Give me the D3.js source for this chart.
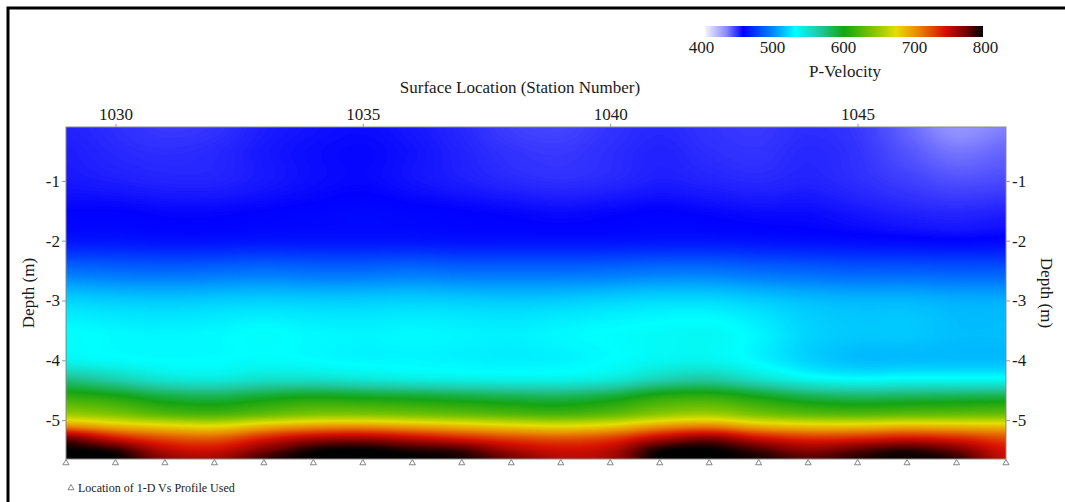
<!DOCTYPE html>
<html>
<head>
<meta charset="utf-8">
<script src="https://cdn.jsdelivr.net/npm/d3@7"></script>
<style>
  html, body { margin: 0; padding: 0; background: #fff; }
  svg { display: block; }
  text { font-family: "Liberation Serif", "Times New Roman", serif; fill: #1a1a1a; }
</style>
</head>
<body>
<svg id="chart" width="1065" height="502"></svg>
<script>
// Survey stations (columns of the velocity grid)
const stations = [1029, 1030, 1031, 1032, 1033, 1034, 1035, 1036, 1037, 1038,
                  1039, 1040, 1041, 1042, 1043, 1044, 1045, 1046, 1047, 1048];
// Depths of the grid rows (m)
const depths = [-0.1, -0.5, -1.0, -1.5, -2.0, -2.5, -3.0, -3.5, -4.0, -4.3,
                -4.6, -4.9, -5.1, -5.3, -5.5, -5.65];
// P-wave velocity (m/s), one row per depth, one value per station
const velocity = [
  [449, 447, 445, 446, 450, 452, 453, 451, 448, 444, 443, 446, 448, 446, 445, 447, 445, 437, 428, 432],
  [450, 448, 447, 448, 451, 453, 454, 452, 449, 446, 445, 447, 449, 447, 446, 448, 446, 440, 434, 437],
  [451, 450, 449, 449, 451, 453, 454, 452, 450, 448, 447, 448, 450, 449, 448, 449, 447, 444, 441, 442],
  [455, 455, 454, 454, 455, 456, 457, 456, 455, 454, 453, 454, 455, 454, 453, 453, 451, 449, 448, 449],
  [461, 461, 460, 460, 461, 461, 461, 461, 460, 460, 460, 460, 461, 461, 460, 459, 458, 457, 456, 457],
  [490, 488, 487, 488, 490, 488, 488, 490, 488, 488, 488, 489, 491, 491, 488, 486, 484, 484, 483, 483],
  [518, 516, 515, 516, 517, 516, 516, 517, 516, 515, 516, 518, 520, 520, 516, 512, 510, 510, 508, 508],
  [530, 528, 527, 528, 530, 528, 527, 528, 527, 526, 528, 530, 532, 533, 527, 518, 515, 515, 512, 512],
  [535, 532, 530, 530, 532, 530, 528, 528, 527, 526, 527, 530, 535, 536, 528, 518, 512, 512, 512, 512],
  [570, 558, 545, 542, 548, 548, 544, 540, 538, 537, 537, 542, 556, 562, 548, 535, 530, 532, 532, 532],
  [610, 602, 588, 584, 592, 598, 595, 592, 588, 584, 582, 590, 606, 610, 598, 585, 580, 582, 584, 586],
  [650, 640, 625, 620, 630, 640, 640, 636, 630, 624, 620, 628, 645, 652, 638, 628, 625, 628, 630, 632],
  [705, 690, 680, 675, 690, 700, 702, 695, 688, 680, 675, 682, 700, 708, 692, 685, 685, 690, 688, 686],
  [775, 745, 725, 720, 740, 758, 762, 752, 740, 728, 722, 730, 755, 770, 748, 735, 738, 745, 738, 725],
  [800, 790, 755, 748, 772, 795, 800, 792, 785, 760, 748, 755, 795, 800, 785, 768, 780, 790, 775, 745],
  [800, 800, 768, 760, 788, 800, 800, 800, 795, 775, 755, 760, 800, 800, 795, 782, 792, 798, 790, 750]
];
// Stations where a 1-D Vs profile was used
const profileStations = [1029, 1030, 1031, 1032, 1033, 1034, 1035, 1036, 1037, 1038,
                         1039, 1040, 1041, 1042, 1043, 1044, 1045, 1046, 1047, 1048];
// Tick labels
const stationTicks = [1030, 1035, 1040, 1045];
const depthTicks = [-1, -2, -3, -4, -5];
const velocityTicks = [400, 500, 600, 700, 800];

// Colour ramp for velocity
const colorStops = [400, 430, 455, 495, 530, 565, 600, 640, 675, 705, 745, 775, 800];
const colorList = ["#f4f4ff", "#8c8cff", "#0000ff", "#0080ff", "#00ffff", "#20c8a0",
                   "#14a414", "#7cc400", "#e4de00", "#ea8c00", "#d81000", "#760000", "#000000"];

const svg = d3.select("#chart");
const plot = { left: 66, right: 1006, top: 127, bottom: 459 };

const x = d3.scaleLinear().domain([1029, 1048]).range([plot.left, plot.right]);
const y = d3.scaleLinear().domain([-0.1, -5.65]).range([plot.top, plot.bottom]);
const color = d3.scaleLinear().domain(colorStops).range(colorList)
  .interpolate(d3.interpolateRgb).clamp(true);
const plain = d => String(d);

// Outer frame (left and top edges)
svg.append("path")
  .attr("d", "M8,502 L8,8 L1065,8")
  .attr("fill", "none").attr("stroke", "#000").attr("stroke-width", 3);

// ---- Velocity field rendered to a canvas, smoothly interpolated ----
const W = plot.right - plot.left, H = plot.bottom - plot.top;
const canvas = document.createElement("canvas");
canvas.width = W; canvas.height = H;
const ctx = canvas.getContext("2d");
const img = ctx.createImageData(W, H);

const nCols = stations.length, nRows = depths.length;
const colIndex = d3.scaleLinear().domain(d3.extent(stations)).range([0, nCols - 1]).clamp(true);
const rowIndex = d3.scaleLinear().domain(depths).range(d3.range(nRows)).clamp(true);

function cr(p0, p1, p2, p3, t) {
  return 0.5 * ((2 * p1) + (-p0 + p2) * t + (2 * p0 - 5 * p1 + 4 * p2 - p3) * t * t +
    (-p0 + 3 * p1 - 3 * p2 + p3) * t * t * t);
}
function val(r, c) {
  r = Math.max(0, Math.min(nRows - 1, r));
  c = Math.max(0, Math.min(nCols - 1, c));
  return velocity[r][c];
}
function sample(fr, fc) {
  const r = Math.floor(fr), c = Math.floor(fc);
  const tr = fr - r, tc = fc - c;
  const rowsV = [];
  for (let k = -1; k <= 2; k++) {
    rowsV.push(cr(val(r + k, c - 1), val(r + k, c), val(r + k, c + 1), val(r + k, c + 2), tc));
  }
  return cr(rowsV[0], rowsV[1], rowsV[2], rowsV[3], tr);
}

const rgbCache = new Map();
for (let py = 0; py < H; py++) {
  const fr = rowIndex(y.invert(plot.top + py + 0.5));
  for (let px = 0; px < W; px++) {
    const fc = colIndex(x.invert(plot.left + px + 0.5));
    let v = Math.round(Math.max(400, Math.min(800, sample(fr, fc))) * 2) / 2;
    let c = rgbCache.get(v);
    if (!c) { c = d3.rgb(color(v)); rgbCache.set(v, c); }
    const i = (py * W + px) * 4;
    img.data[i] = c.r; img.data[i + 1] = c.g; img.data[i + 2] = c.b; img.data[i + 3] = 255;
  }
}
ctx.putImageData(img, 0, 0);

svg.append("image")
  .attr("x", plot.left).attr("y", plot.top)
  .attr("width", W).attr("height", H)
  .attr("preserveAspectRatio", "none")
  .attr("href", canvas.toDataURL());

svg.append("rect")
  .attr("x", plot.left).attr("y", plot.top).attr("width", W).attr("height", H)
  .attr("fill", "none").attr("stroke", "#8a8a8a").attr("stroke-width", 1);

// ---- Axes ----
function styleAxis(g) {
  g.select(".domain").remove();
  g.selectAll(".tick line").attr("stroke", "#999");
  g.selectAll(".tick text")
    .style("font-family", '"Liberation Serif","Times New Roman",serif')
    .style("font-size", "17px").attr("fill", "#1a1a1a");
}

svg.append("g").attr("transform", `translate(0,${plot.top})`)
  .call(d3.axisTop(x).tickValues(stationTicks).tickFormat(plain).tickSize(3).tickPadding(4))
  .call(styleAxis);

svg.append("g").attr("transform", `translate(${plot.left},0)`)
  .call(d3.axisLeft(y).tickValues(depthTicks).tickFormat(plain).tickSize(4).tickPadding(2))
  .call(styleAxis);

svg.append("g").attr("transform", `translate(${plot.right},0)`)
  .call(d3.axisRight(y).tickValues(depthTicks).tickFormat(plain).tickSize(4).tickPadding(2))
  .call(styleAxis);

// Axis titles
svg.append("text")
  .attr("x", 520).attr("y", 93).attr("text-anchor", "middle")
  .style("font-size", "17px").text("Surface Location (Station Number)");

svg.append("text")
  .attr("transform", `translate(34,${(plot.top + plot.bottom) / 2}) rotate(-90)`)
  .attr("text-anchor", "middle").style("font-size", "17px").text("Depth (m)");

svg.append("text")
  .attr("transform", `translate(1041,${(plot.top + plot.bottom) / 2}) rotate(90)`)
  .attr("text-anchor", "middle").style("font-size", "17px").text("Depth (m)");

// ---- Profile markers ----
const tri = d3.symbol().type(d3.symbolTriangle).size(16);
svg.append("g").selectAll("path")
  .data(profileStations)
  .join("path")
  .attr("d", tri)
  .attr("transform", d => `translate(${x(d)},${plot.bottom + 4})`)
  .attr("fill", "#fff").attr("stroke", "#777").attr("stroke-width", 0.9);

svg.append("path")
  .attr("d", tri)
  .attr("transform", "translate(71,488)")
  .attr("fill", "#fff").attr("stroke", "#777").attr("stroke-width", 0.9);
svg.append("text")
  .attr("x", 78).attr("y", 492).style("font-size", "12px")
  .text("Location of 1-D Vs Profile Used");

// ---- Colour bar ----
const cb = d3.scaleLinear().domain([400, 800]).range([705, 983]);
const cbLabels = d3.scaleLinear().domain([400, 800]).range([701, 985]);
const defs = svg.append("defs");
const grad = defs.append("linearGradient").attr("id", "vgrad")
  .attr("x1", "0%").attr("x2", "100%").attr("y1", "0%").attr("y2", "0%");
grad.selectAll("stop").data(colorStops).join("stop")
  .attr("offset", d => ((d - 400) / 400 * 100) + "%")
  .attr("stop-color", d => color(d));

svg.append("rect")
  .attr("x", cb(400)).attr("y", 26).attr("width", cb(800) - cb(400)).attr("height", 11)
  .attr("fill", "url(#vgrad)");

svg.append("g").attr("transform", "translate(0,37)")
  .call(d3.axisBottom(cbLabels).tickValues(velocityTicks).tickFormat(plain).tickSize(0).tickPadding(4))
  .call(styleAxis);

svg.append("text")
  .attr("x", 845).attr("y", 77).attr("text-anchor", "middle")
  .style("font-size", "17px").text("P-Velocity");
</script>
</body>
</html>
